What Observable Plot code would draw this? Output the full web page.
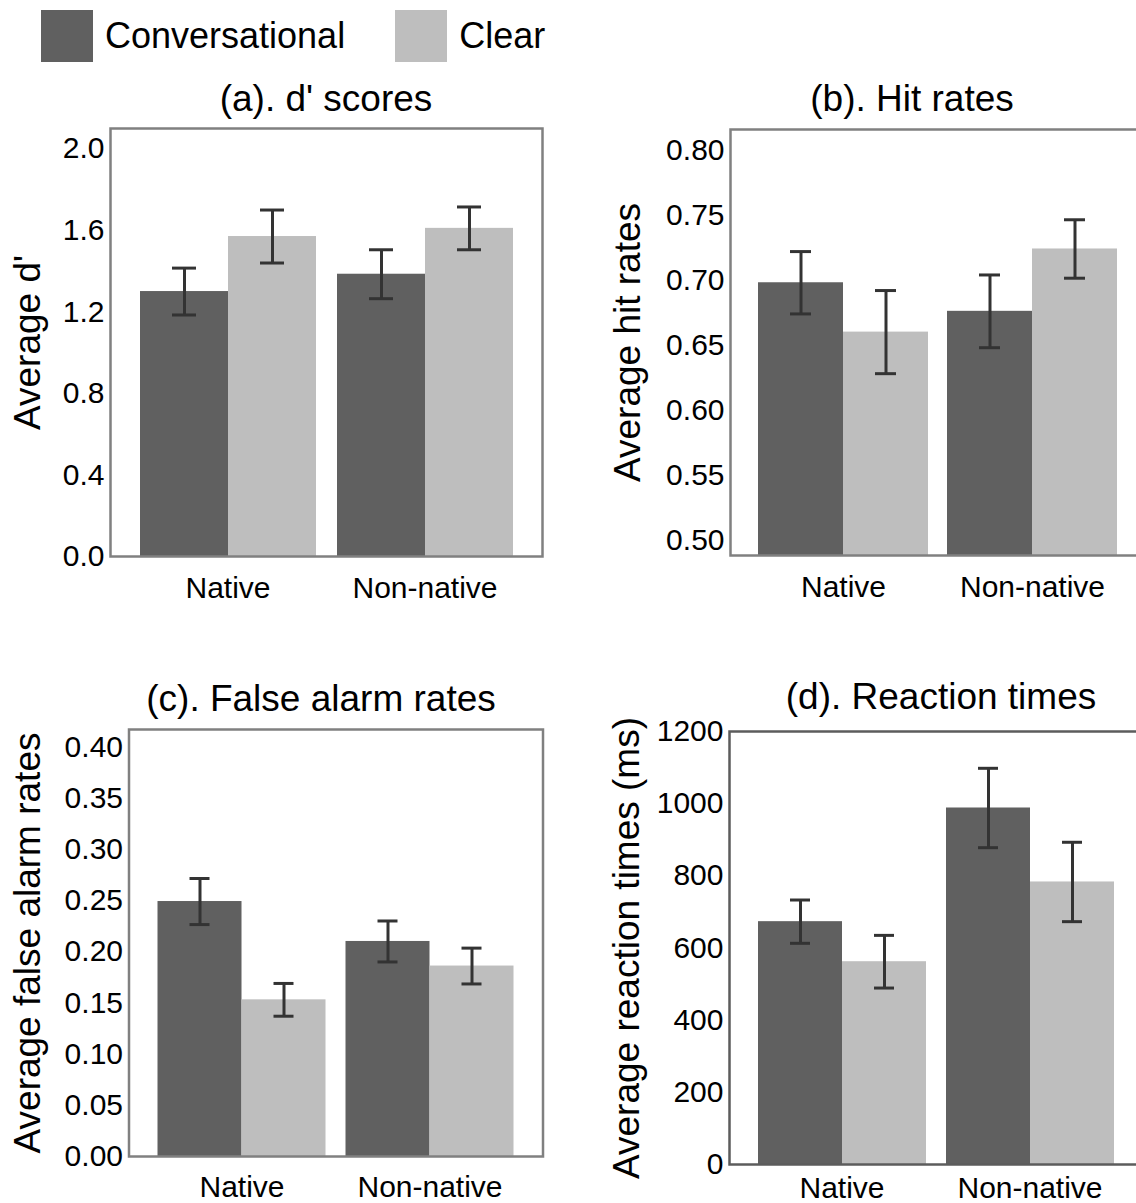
<!DOCTYPE html>
<html>
<head>
<meta charset="utf-8">
<script src="https://cdn.jsdelivr.net/npm/d3@7"></script>
<script src="https://cdn.jsdelivr.net/npm/@observablehq/plot@0.6"></script>
<style>
  html, body { margin: 0; padding: 0; background: #fff; overflow: hidden; }
  #root { position: relative; width: 1136px; height: 1203px; overflow: hidden;
          font-family: "Liberation Sans", Arial, sans-serif; color: #000; }
  .abs { position: absolute; }
  .title { font-size: 37px; line-height: 1; white-space: nowrap; transform: translateX(-50%); }
  .legend { display: flex; align-items: center; left: 41px; top: 10px; font-size: 36px; line-height: 1; }
  .legend .sw { width: 52px; height: 52px; margin-right: 12px; }
  .legend .item { display: flex; align-items: center; margin-right: 50px; }
  #root svg [aria-label="y-axis label"] { font-size: 37px; }
  #root svg [aria-label="y-axis label"] text { font-size: 37px; }
</style>
</head>
<body>
<div id="root"></div>
<script>
// ---------------- data ----------------
const groups = ["Native", "Non-native"];
const conditions = ["Conversational", "Clear"];
const conditionColors = ["#606060", "#bebebe"];

// order of values: Native-Conversational, Native-Clear, Non-native-Conversational, Non-native-Clear
const dprimeMean = [1.30, 1.57, 1.385, 1.61];
const dprimeErr  = [0.115, 0.13, 0.12, 0.105];

const hitMean = [0.698, 0.660, 0.676, 0.724];
const hitErr  = [0.024, 0.032, 0.028, 0.0225];

const faMean = [0.249, 0.153, 0.210, 0.186];
const faErr  = [0.0225, 0.016, 0.020, 0.0175];

const rtMean = [673, 562, 988, 783];
const rtErr  = [60, 73, 110, 110];

const dprimeTicks = [0, 0.4, 0.8, 1.2, 1.6, 2.0];
const hitTicks = [0.50, 0.55, 0.60, 0.65, 0.70, 0.75, 0.80];
const faTicks = [0, 0.05, 0.10, 0.15, 0.20, 0.25, 0.30, 0.35, 0.40];
const rtTicks = [0, 200, 400, 600, 800, 1000, 1200];

const titles = ["(a). d' scores", "(b). Hit rates", "(c). False alarm rates", "(d). Reaction times"];
const yLabels = ["Average d'", "Average hit rates", "Average false alarm rates", "Average reaction times (ms)"];

// ---------------- helpers ----------------
function rowsFrom(means, errs) {
  const rows = [];
  groups.forEach((g, i) => conditions.forEach((c, j) => {
    const v = means[i * 2 + j], e = errs[i * 2 + j];
    rows.push({group: g, condition: c, value: v, lo: v - e, hi: v + e});
  }));
  return rows;
}

const root = document.getElementById("root");

// legend
const legend = document.createElement("div");
legend.className = "abs legend";
conditions.forEach((c, i) => {
  const item = document.createElement("div");
  item.className = "item";
  const sw = document.createElement("div");
  sw.className = "sw";
  sw.style.background = conditionColors[i];
  const lab = document.createElement("span");
  lab.textContent = c;
  item.appendChild(sw); item.appendChild(lab);
  legend.appendChild(item);
});
root.appendChild(legend);

// layout: svg box, margins (to the bar extents), frame outset, label placement
const panels = [
  {means: dprimeMean, errs: dprimeErr, domain: [0, 2.1], ticks: dprimeTicks, fmt: ".1f",
   left: 0, top: 118, width: 568, height: 488, mL: 139, mR: 54.4, mT: 10, mB: 50, out: 29,
   fxPad: 20, labelOffset: 126, titleX: 326, titleY: 80, frameColor: "#808080"},
  {means: hitMean, errs: hitErr, domain: [0.488, 0.816], ticks: hitTicks, fmt: ".2f",
   left: 590, top: 118, width: 560, height: 488, mL: 167, mR: 32.5, mT: 11, mB: 51, out: 28,
   fxPad: 20, labelOffset: 145, titleX: 912, titleY: 80, frameColor: "#808080"},
  {means: faMean, errs: faErr, domain: [0, 0.417], ticks: faTicks, fmt: ".2f",
   left: 0, top: 718, width: 568, height: 485, mL: 156.5, mR: 54, mT: 11, mB: 47, out: 28.5,
   fxPad: 19, labelOffset: 144, titleX: 321, titleY: 680, frameColor: "#808080"},
  {means: rtMean, errs: rtErr, domain: [0, 1200], ticks: rtTicks, fmt: "d",
   left: 590, top: 718, width: 560, height: 485, mL: 167, mR: 35, mT: 13, mB: 39, out: 28,
   fxPad: 12, labelOffset: 145, titleX: 941, titleY: 678, frameColor: "#5c5c5c"}
];

panels.forEach((p, k) => {
  const rows = rowsFrom(p.means, p.errs);
  const base = p.domain[0];
  const chart = Plot.plot({
    width: p.width, height: p.height,
    marginLeft: p.mL, marginRight: p.mR, marginTop: p.mT, marginBottom: p.mB,
    style: {fontFamily: '"Liberation Sans", Arial, sans-serif', fontSize: "30px", color: "#000",
            background: "transparent", overflow: "visible"},
    facet: {data: rows, x: "group"},
    fx: {domain: groups, paddingInner: 0.1, paddingOuter: 0, axis: "bottom", label: null,
         tickSize: 0, tickPadding: p.fxPad},
    x: {domain: conditions, padding: 0, axis: null},
    y: {domain: p.domain, ticks: p.ticks, tickFormat: d3.format(p.fmt), tickSize: 0, tickPadding: p.out + 6,
        label: yLabels[k], labelAnchor: "center", labelOffset: p.labelOffset, labelArrow: "none"},
    color: {domain: conditions, range: conditionColors},
    marks: [
      Plot.barY(rows, {x: "condition", y1: () => base, y2: "value", fill: "condition"}),
      Plot.ruleX(rows, {x: "condition", y1: "lo", y2: "hi", stroke: "#333", strokeWidth: 3}),
      Plot.tickY(rows, {x: "condition", y: "hi", stroke: "#333", strokeWidth: 3, insetLeft: 32, insetRight: 32}),
      Plot.tickY(rows, {x: "condition", y: "lo", stroke: "#333", strokeWidth: 3, insetLeft: 32, insetRight: 32}),
      Plot.frame({facet: "super", stroke: p.frameColor, strokeWidth: 2.5,
                  insetLeft: -p.out, insetRight: -p.out})
    ]
  });
  chart.classList.add("abs");
  chart.style.left = p.left + "px";
  chart.style.top = p.top + "px";
  root.appendChild(chart);

  const t = document.createElement("div");
  t.className = "abs title";
  t.textContent = titles[k];
  t.style.left = p.titleX + "px";
  t.style.top = p.titleY + "px";
  root.appendChild(t);
});
</script>
</body>
</html>
